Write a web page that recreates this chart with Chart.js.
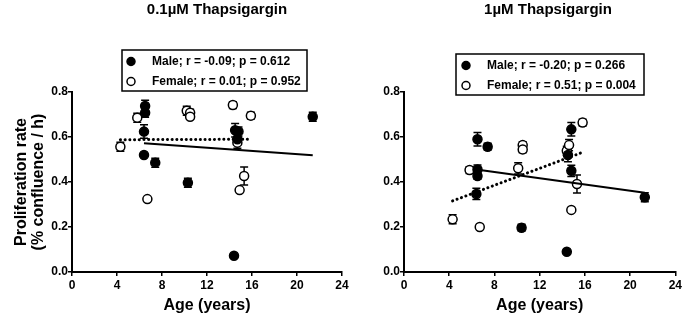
<!DOCTYPE html>
<html>
<head>
<meta charset="utf-8">
<script src="https://cdn.jsdelivr.net/npm/chart.js@4.4.1/dist/chart.umd.min.js"></script>
<style>
  html, body { margin: 0; padding: 0; background: #fff; overflow: hidden; }
  #wrap { position: relative; width: 684px; height: 326px; }
  canvas { position: absolute; top: 0; }
  #chartLow { left: 0; }
  #chartHigh { left: 360px; }
</style>
</head>
<body>
<div id="wrap">
  <canvas id="chartLow" width="360" height="326" style="width:360px;height:326px"></canvas>
  <canvas id="chartHigh" width="324" height="326" style="width:324px;height:326px"></canvas>
</div>
<script>
/* Datos: edad (años), tasa de proliferación y error (SEM) */

/* 0.1µM Thapsigargin */
const ageMaleLow   = [6.5, 6.5, 6.4, 6.4, 7.4, 10.3, 14.5, 14.8, 14.7, 14.4, 21.4];
const rateMaleLow  = [0.738, 0.708, 0.624, 0.52, 0.486, 0.397, 0.63, 0.625, 0.59, 0.072, 0.69];
const errMaleLow   = [0.025, 0.02, 0.03, 0, 0.02, 0.02, 0.03, 0.02, 0.02, 0, 0.02];
const ageFemLow    = [4.3, 5.8, 6.7, 10.2, 10.5, 10.5, 14.3, 14.7, 14.9, 15.3, 15.9];
const rateFemLow   = [0.557, 0.686, 0.324, 0.717, 0.708, 0.69, 0.742, 0.575, 0.364, 0.427, 0.695];
const errFemLow    = [0.02, 0.02, 0, 0.02, 0.015, 0.01, 0.015, 0.025, 0, 0.04, 0.015];
const fitMaleLow   = [0.572, 0.519];
const fitFemLow    = [0.588, 0.59];

/* 1µM Thapsigargin */
const ageMaleHigh  = [6.5, 7.4, 6.5, 6.5, 6.4, 10.4, 14.8, 14.5, 14.8, 14.4, 21.3];
const rateMaleHigh = [0.59, 0.557, 0.456, 0.427, 0.347, 0.197, 0.634, 0.52, 0.45, 0.09, 0.332];
const errMaleHigh  = [0.03, 0.015, 0.02, 0.015, 0.025, 0.015, 0.03, 0.03, 0.025, 0, 0.02];
const ageFemHigh   = [4.3, 5.8, 6.7, 10.1, 10.5, 10.5, 14.4, 14.6, 14.8, 15.3, 15.8];
const rateFemHigh  = [0.234, 0.453, 0.2, 0.461, 0.564, 0.545, 0.539, 0.564, 0.276, 0.391, 0.664];
const errFemHigh   = [0.02, 0.015, 0, 0.025, 0.015, 0.015, 0.02, 0.025, 0, 0.04, 0.015];
const fitMaleHigh  = [0.456, 0.352];
const fitFemHigh   = [0.316, 0.532];

/* Textos */
const titleLow   = '0.1µM Thapsigargin';
const titleHigh  = '1µM Thapsigargin';
const legendLow  = ['Male; r = -0.09; p = 0.612', 'Female; r = 0.01; p = 0.952'];
const legendHigh = ['Male; r = -0.20; p = 0.266', 'Female; r = 0.51; p = 0.004'];
const xTicks = [0, 4, 8, 12, 16, 20, 24];
const yTicks = [0, 0.2, 0.4, 0.6, 0.8];

const fontFamily = '"Liberation Sans", Arial, sans-serif';

function toPoints(xs, ys) {
  return xs.map((x, i) => ({ x: x, y: ys[i] }));
}

/*
 * Dibuja barras de error verticales (con tapas) debajo de los marcadores.
*/
const errorBars = {
  id: 'errorBars',
  beforeDatasetsDraw(chart) {
    const ctx = chart.ctx;
    const yScale = chart.scales.y;
    ctx.save();
    ctx.strokeStyle = '#000';
    ctx.lineWidth = 1.5;
    chart.data.datasets.forEach((ds, i) => {
      if (!ds.errors) return;
      const meta = chart.getDatasetMeta(i);
      meta.data.forEach((pt, j) => {
        const e = ds.errors[j];
        if (!e) return;
        const v = ds.data[j].y;
        const yTop = yScale.getPixelForValue(v + e);
        const yBot = yScale.getPixelForValue(v - e);
        ctx.beginPath();
        ctx.moveTo(pt.x, yTop); ctx.lineTo(pt.x, yBot);
        ctx.moveTo(pt.x - 4, yTop); ctx.lineTo(pt.x + 4, yTop);
        ctx.moveTo(pt.x - 4, yBot); ctx.lineTo(pt.x + 4, yBot);
        ctx.stroke();
      });
    });
    ctx.restore();
  }
};

/*
 * Título del panel y leyenda con recuadro.
*/
const panelDecor = {
  id: 'panelDecor',
  afterDraw(chart, args, opts) {
    const ctx = chart.ctx;
    ctx.save();
    ctx.fillStyle = '#000';
    ctx.textBaseline = 'middle';
    ctx.textAlign = 'center';
    ctx.font = 'bold 15px ' + fontFamily;
    ctx.fillText(opts.title, opts.titleX, opts.titleY);

    const b = opts.box;
    ctx.fillStyle = '#fff';
    ctx.fillRect(b.x, b.y, b.w, b.h);
    ctx.strokeStyle = '#000';
    ctx.lineWidth = 1.5;
    ctx.strokeRect(b.x, b.y, b.w, b.h);

    ctx.textAlign = 'left';
    ctx.font = 'bold 12px ' + fontFamily;
    opts.labels.forEach((txt, k) => {
      const y = b.y + opts.rowTop + k * opts.rowGap;
      ctx.beginPath();
      ctx.arc(b.x + opts.markX, y, 4, 0, Math.PI * 2);
      ctx.fillStyle = k === 0 ? '#000' : '#fff';
      ctx.fill();
      ctx.lineWidth = 1.5;
      ctx.stroke();
      ctx.fillStyle = '#000';
      ctx.fillText(txt, b.x + opts.textX, y);
    });
    ctx.restore();
  }
};

function buildDatasets(ageM, rateM, errM, fitM, ageF, rateF, errF, fitF) {
  const fitLine = (ages, fit) => [
    { x: Math.min(...ages), y: fit[0] },
    { x: Math.max(...ages), y: fit[1] }
  ];
  return [
    { data: fitLine(ageM, fitM), showLine: true, pointRadius: 0, borderColor: '#000', borderWidth: 2 },
    { data: fitLine(ageF, fitF), showLine: true, pointRadius: 0, borderColor: '#000', borderWidth: 3,
      borderDash: [0.1, 4.6], borderCapStyle: 'round' },
    { data: toPoints(ageM, rateM), errors: errM, pointRadius: 4.5, backgroundColor: '#000', borderColor: '#000', borderWidth: 1.5 },
    { data: toPoints(ageF, rateF), errors: errF, pointRadius: 4.5, backgroundColor: '#fff', borderColor: '#000', borderWidth: 1.5 }
  ];
}

function buildOptions(cfg) {
  const tickFont = { family: fontFamily, size: 12, weight: 'bold' };
  const titleFont = { family: fontFamily, size: 16, weight: 'bold', lineHeight: 1.05 };
  return {
    responsive: false,
    animation: false,
    layout: { padding: { top: 92, right: cfg.padRight, left: 0, bottom: 0 } },
    plugins: { legend: { display: false }, tooltip: { enabled: false }, panelDecor: cfg.decor },
    scales: {
      x: {
        type: 'linear', min: 0, max: 24,
        afterBuildTicks: s => { s.ticks = xTicks.map(v => ({ value: v })); },
        ticks: { font: tickFont, color: '#000', padding: 2, maxRotation: 0 },
        grid: { drawOnChartArea: false, drawTicks: true, tickLength: 4, color: '#000', lineWidth: 1.5 },
        border: { color: '#000', width: 2 },
        title: { display: true, text: 'Age (years)', font: { family: fontFamily, size: 16, weight: 'bold' }, color: '#000', padding: { top: 0, bottom: 11 } },
        afterFit: s => { s.height = 54; }
      },
      y: {
        type: 'linear', min: 0, max: 0.8,
        afterBuildTicks: s => { s.ticks = yTicks.map(v => ({ value: v })); },
        ticks: { font: tickFont, color: '#000', padding: 0, callback: v => v.toFixed(1) },
        grid: { drawOnChartArea: false, drawTicks: true, tickLength: 4, color: '#000', lineWidth: 1.5 },
        border: { color: '#000', width: 2 },
        title: { display: cfg.yTitle, text: ['Proliferation rate', '(% confluence / h)'], font: titleFont, color: '#000', padding: { top: 13, bottom: 0 } },
        afterFit: s => { s.width = cfg.yWidth; }
      }
    }
  };
}

new Chart(document.getElementById('chartLow'), {
  type: 'scatter',
  data: { datasets: buildDatasets(ageMaleLow, rateMaleLow, errMaleLow, fitMaleLow, ageFemLow, rateFemLow, errFemLow, fitFemLow) },
  options: buildOptions({
    padRight: 18, yWidth: 72, yTitle: true,
    decor: { title: titleLow, titleX: 217, titleY: 10,
             box: { x: 122, y: 50, w: 185, h: 41 }, labels: legendLow,
             rowTop: 11.5, rowGap: 20, markX: 9, textX: 30 }
  }),
  plugins: [errorBars, panelDecor]
});

new Chart(document.getElementById('chartHigh'), {
  type: 'scatter',
  data: { datasets: buildDatasets(ageMaleHigh, rateMaleHigh, errMaleHigh, fitMaleHigh, ageFemHigh, rateFemHigh, errFemHigh, fitFemHigh) },
  options: buildOptions({
    padRight: 8, yWidth: 44, yTitle: false,
    decor: { title: titleHigh, titleX: 188, titleY: 10,
             box: { x: 96, y: 54, w: 188, h: 41 }, labels: legendHigh,
             rowTop: 11.5, rowGap: 20, markX: 10, textX: 31 }
  }),
  plugins: [errorBars, panelDecor]
});
</script>
</body>
</html>
